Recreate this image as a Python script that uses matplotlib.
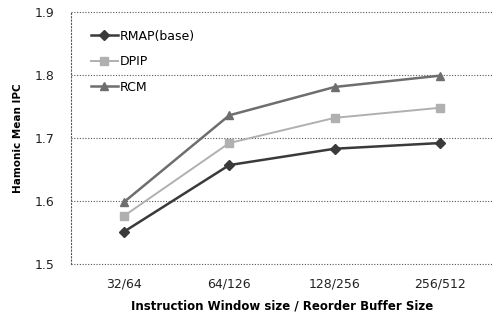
import matplotlib.pyplot as plt

# data
categories = ["32/64", "64/126", "128/256", "256/512"]
rmap = [1.551, 1.657, 1.683, 1.692]
dpip = [1.576, 1.692, 1.732, 1.748]
rcm = [1.598, 1.736, 1.781, 1.799]
y_ticks = [1.5, 1.6, 1.7, 1.8, 1.9]

fig = plt.figure(figsize=(4.93, 3.2), dpi=100)
ax = fig.add_axes([0.144, 0.175, 0.856, 0.7875])

x = list(range(len(categories)))

# series
ax.plot(x, rmap, color="#3a3a3a", marker="D", markersize=5, linewidth=1.8,
        label="RMAP(base)")
ax.plot(x, dpip, color="#b0b0b0", marker="s", markersize=6, linewidth=1.4,
        label="DPIP")
ax.plot(x, rcm, color="#6e6e6e", marker="^", markersize=6, linewidth=1.8,
        label="RCM")

# axes setup
ax.set_xlim(-0.5, len(categories) - 0.5)
ax.set_ylim(1.5, 1.9)
ax.set_yticks(y_ticks)
ax.set_yticklabels([f"{v:.1f}" for v in y_ticks], fontsize=9, color="#222222")
ax.set_xticks(x)
ax.set_xticklabels(categories, fontsize=9, color="#222222")
ax.tick_params(length=0)
ax.tick_params(axis="x", pad=10)
ax.tick_params(axis="y", pad=12)

ax.yaxis.grid(True, linestyle=(0, (1, 1.5)), color="#555555", linewidth=0.8)
for gl in ax.get_ygridlines():
    gl.set_clip_on(False)
ax.set_axisbelow(True)
for side in ["top", "right", "bottom"]:
    ax.spines[side].set_visible(False)
ax.spines["left"].set_linestyle((0, (1, 2)))
ax.spines["left"].set_color("#555555")
ax.spines["left"].set_linewidth(0.8)

ax.set_xlabel("Instruction Window size / Reorder Buffer Size", fontsize=8.5,
              fontweight="bold", labelpad=6)
ax.set_ylabel("Hamonic Mean IPC", fontsize=7.5, fontweight="bold", labelpad=8)

ax.legend(loc="upper left", bbox_to_anchor=(0.02, 0.975), frameon=False,
          fontsize=9, handlelength=2.2, labelspacing=1.0, handletextpad=0.1)

fig.savefig("out.png", dpi=100)
